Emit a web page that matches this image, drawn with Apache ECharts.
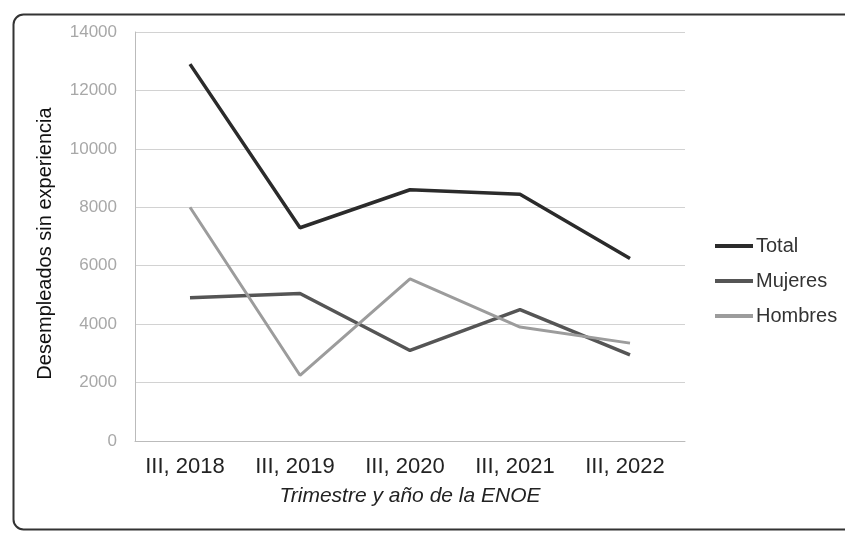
<!DOCTYPE html>
<html>
<head>
<meta charset="utf-8">
<script src="https://cdn.jsdelivr.net/npm/echarts@6/dist/echarts.min.js"></script>
<style>html,body{margin:0;padding:0;background:#fff}#c{width:845px;height:540px}</style>
</head>
<body>
<div id="c"></div>
<script>
const categories = ["III, 2018", "III, 2019", "III, 2020", "III, 2021", "III, 2022"];
const total = [12900, 7300, 8600, 8450, 6250];
const mujeres = [4900, 5050, 3100, 4500, 2950];
const hombres = [8000, 2250, 5550, 3900, 3350];
const seriesNames = ["Total", "Mujeres", "Hombres"];
const colors = ["#2b2b2b", "#555555", "#9c9c9c"];

const chart = echarts.init(document.getElementById('c'));
const font = 'Liberation Sans, Arial, sans-serif';
chart.setOption({
  backgroundColor: '#ffffff',
  animation: false,
  graphic: [{
    type: 'rect', left: 11, top: 12, silent: true,
    shape: {width: 860, height: 515, r: 10},
    style: {fill: 'none', stroke: '#333', lineWidth: 2}
  }],
  grid: {left: 135, right: 160, top: 32, bottom: 99},
  legend: {
    orient: 'vertical', left: 710, top: 231,
    itemWidth: 38, itemHeight: 4, itemGap: 15, icon: 'rect',
    textStyle: {fontFamily: font, fontSize: 20, color: '#333', padding: [0, 0, 0, -2]},
    data: seriesNames
  },
  xAxis: {
    type: 'category', data: categories, boundaryGap: true,
    axisLine: {show: true, lineStyle: {color: '#bbb', width: 1}},
    axisTick: {show: false},
    axisLabel: {fontFamily: font, fontSize: 22, color: '#222', margin: 15, padding: [0, 10, 0, 0]},
    name: 'Trimestre y año de la ENOE', nameLocation: 'middle', nameGap: 45,
    nameTextStyle: {fontFamily: font, fontSize: 21, fontStyle: 'italic', color: '#222'}
  },
  yAxis: {
    type: 'value', min: 0, max: 14000, interval: 2000,
    axisLine: {show: true, lineStyle: {color: '#bbb', width: 1}},
    axisTick: {show: false},
    splitLine: {lineStyle: {color: '#d2d2d2', width: 1}},
    axisLabel: {fontFamily: font, fontSize: 17, color: '#a8a8a8', margin: 18, formatter: function (v) { return String(v); }},
    name: 'Desempleados sin experiencia', nameLocation: 'middle', nameGap: 80,
    nameTextStyle: {fontFamily: font, fontSize: 20, color: '#111', padding: [0, 14, 0, 0]}
  },
  series: [
    {name: seriesNames[0], type: 'line', data: total, symbol: 'none', lineStyle: {width: 3.5, color: colors[0]}, itemStyle: {color: colors[0]}},
    {name: seriesNames[1], type: 'line', data: mujeres, symbol: 'none', lineStyle: {width: 3.5, color: colors[1]}, itemStyle: {color: colors[1]}},
    {name: seriesNames[2], type: 'line', data: hombres, symbol: 'none', lineStyle: {width: 3, color: colors[2]}, itemStyle: {color: colors[2]}}
  ]
});
</script>
</body>
</html>
